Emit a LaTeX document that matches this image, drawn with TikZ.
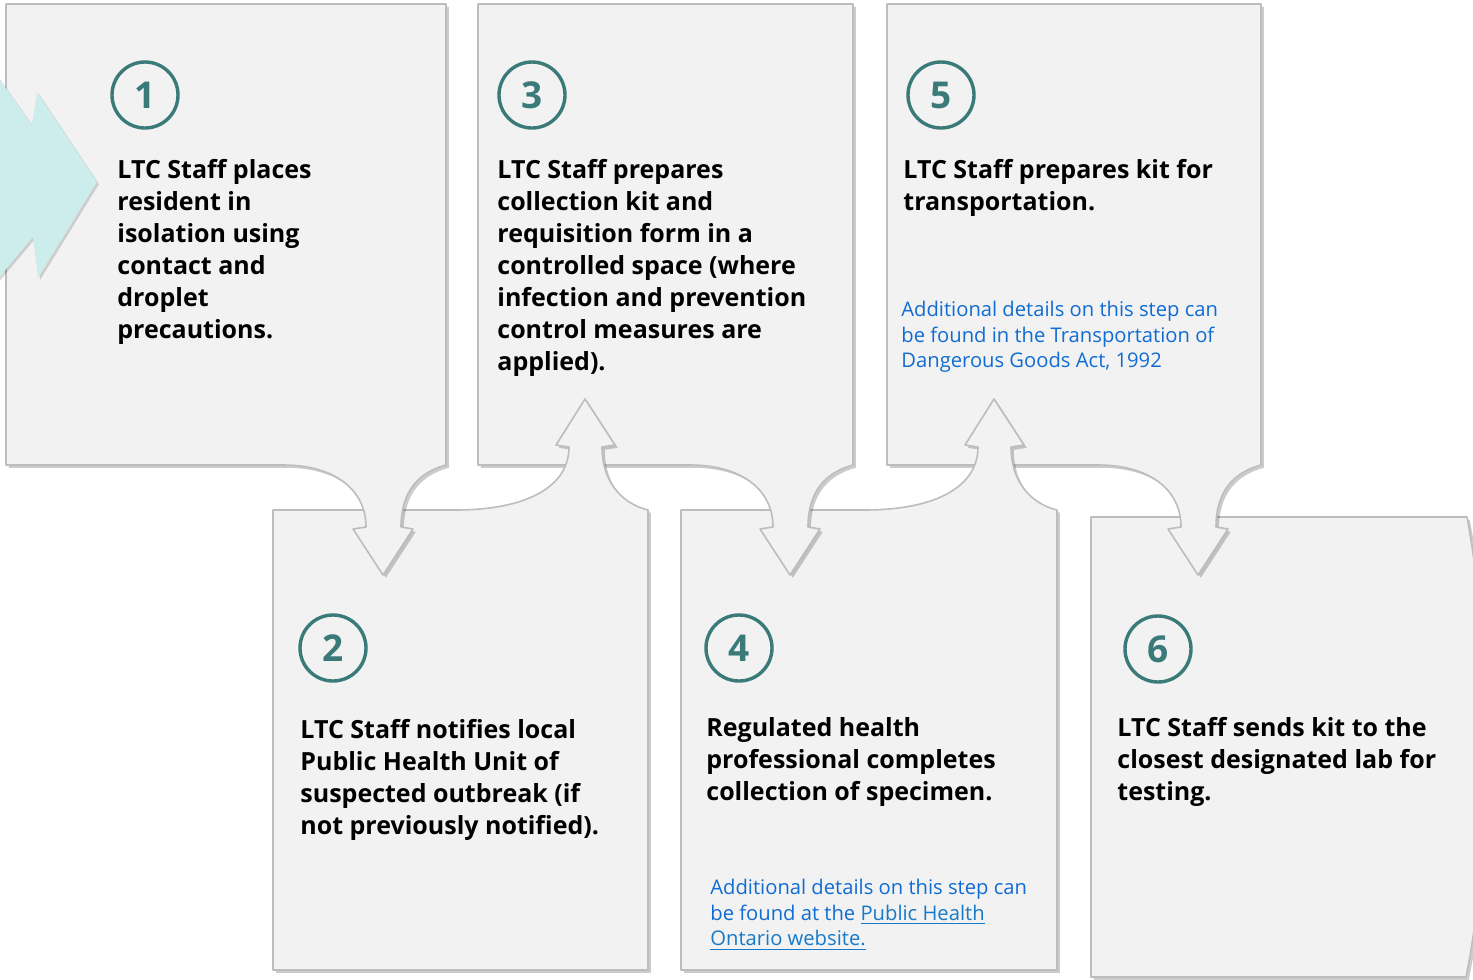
\documentclass[tikz,border=0pt]{standalone}
\usepackage{fontspec}
\setmainfont{Open Sans}
\usepackage{tikz}
\usepackage{xcolor}
\usetikzlibrary{
    shadows,
    positioning
}
\definecolor{boxfill}{HTML}{F2F2F2}
\definecolor{boxline}{HTML}{BDBDBD}
\definecolor{stepteal}{HTML}{3A7A78}
\definecolor{chevron}{HTML}{CDECEC}
\definecolor{noteblue}{RGB}{16,108,210}
\definecolor{linkblue}{RGB}{22,122,200}

\begin{document}
\begin{tikzpicture}[x=0.5pt, y=-0.5pt,
    stepbox/.style={fill=boxfill, draw=boxline, line width=0.8pt, line join=round,
        drop shadow={shadow xshift=1.4pt, shadow yshift=-1.4pt, fill=black, opacity=0.2}},
    stepnum/.style={circle, draw=stepteal, line width=1.7pt, minimum size=33pt, inner sep=0pt,
        text=stepteal, font=\fontsize{18.5}{18.5}\selectfont\bfseries},
    steptext/.style={anchor=north west, inner sep=0pt, align=left,
        font=\fontsize{12.5}{16}\selectfont\bfseries},
    notetext/.style={anchor=north west, inner sep=0pt, align=left, text=noteblue,
        font=\fontsize{10.1}{12.8}\selectfont}]
                        \path[use as bounding box, fill=white] (0,0) rectangle (1473,980);
                        % boxes, last one first so that every arrow lies over the next box
                        \path[stepbox] (1091,517) -- (1467,517) .. controls (1492,650) and (1492,850) .. (1466,977) -- (1091,977) -- cycle;
                        \path[stepbox] (887,4) -- (1261,4) -- (1261,465) .. controls (1235,472) and (1216,490) .. (1216,527) -- (1228,529) -- (1198,575) -- (1168,529) -- (1181,527) .. controls (1181,490) and (1150,465) .. (1098,465) -- (887,465) -- cycle;
                        \path[stepbox] (681,510) -- (864,510) .. controls (939,510) and (978,485) .. (978,447) -- (965,445) -- (994,399) -- (1024,445) -- (1011,447) .. controls (1011,480) and (1029,503) .. (1057,510) -- (1057,970) -- (681,970) -- cycle;
                        \path[stepbox] (478,4) -- (853,4) -- (853,465) .. controls (827,472) and (808,490) .. (808,527) -- (820,529) -- (790,575) -- (760,529) -- (773,527) .. controls (773,490) and (742,465) .. (690,465) -- (478,465) -- cycle;
                        \path[stepbox] (273,510) -- (455,510) .. controls (530,510) and (569,485) .. (569,447) -- (556,445) -- (585,399) -- (615,445) -- (602,447) .. controls (602,480) and (620,503) .. (648,510) -- (648,970) -- (273,970) -- cycle;
                        \path[stepbox] (6,4) -- (446,4) -- (446,465) .. controls (420,472) and (401,490) .. (401,527) -- (413,529) -- (383,575) -- (353,529) -- (366,527) .. controls (366,490) and (335,465) .. (283,465) -- (6,465) -- cycle;
                        % start chevron
                        \path[fill=chevron, drop shadow={shadow xshift=1pt, shadow yshift=-1pt, fill=black, opacity=0.15}]
                        (-10,66) -- (32,125) -- (37,92) -- (97,182) -- (38,278) -- (33,237) -- (-10,288) -- cycle;
                        % numbers
                        \node[stepnum] (n1) at (145,95) {1};
                        \node[stepnum] (n2) at (333,648) {2};
                        \node[stepnum] (n3) at (532,95) {3};
                        \node[stepnum] (n4) at (739,648) {4};
                        \node[stepnum] (n5) at (941,95) {5};
                        \node[stepnum] (n6) at (1158,649) {6};
                        % texts
                        \node[steptext] (t1) at (117,159) {LTC Staff places\\resident in\\isolation using\\contact and\\droplet\\precautions.};
                        \node[steptext] (t2) at (300,719) {LTC Staff notifies local\\Public Health Unit of\\suspected outbreak (if\\not previously notified).};
                        \node[steptext] (t3) at (497,159) {LTC Staff prepares\\collection kit and\\requisition form in a\\controlled space (where\\infection and prevention\\control measures are\\applied).};
                        \node[steptext] (t4) at (706,717) {Regulated health\\professional completes\\collection of specimen.};
                        \node[steptext] (t5) at (903,159) {LTC Staff prepares kit for\\transportation.};
                        \node[steptext] (t6) at (1117,717) {LTC Staff sends kit to the\\closest designated lab for\\testing.};
                        \node[notetext] (d5) at (901,301) {Additional details on this step can\\be found in the Transportation of\\Dangerous Goods Act, 1992};
                        \node[notetext] (d4) at (710,879) {Additional details on this step can\\be found at the \textcolor{linkblue}{\underline{Public Health}}\\\textcolor{linkblue}{\underline{Ontario website.}}};
                    \end{tikzpicture}
\end{document}
